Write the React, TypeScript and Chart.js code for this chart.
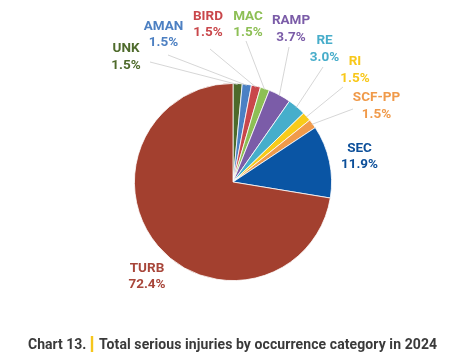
import React, { useEffect, useRef } from "react";
import { Chart, registerables } from "chart.js";

Chart.register(...registerables);

const categories = ["UNK", "AMAN", "BIRD", "MAC", "RAMP", "RE", "RI", "SCF-PP", "SEC", "TURB"];
const shares = [1.5, 1.5, 1.5, 1.5, 3.7, 3.0, 1.5, 1.5, 11.9, 72.4];
const sliceColors = ["#4d6a2b", "#4a80c4", "#c9474b", "#8dbf55", "#7b5ca8", "#46aecb", "#f8cb1a", "#f09a4a", "#0a55a4", "#a3402f"];
const labelColors = ["#4f6b2c", "#4d80c2", "#c9474b", "#8dbf55", "#7b5ca8", "#47adca", "#f8c81a", "#f09a4a", "#0c4f9a", "#a8463a"];
const titleNumber = "Chart 13.";
const titleText = "Total serious injuries by occurrence category in 2024";

// label layout: [text centre x, first line centre y, leader start x, leader start y | null]
const labelLayout: [number, number, number | null, number | null][] = [
  [126, 49, 150, 62],
  [163.5, 26.5, 168, 55],
  [208, 16.5, 210, 49],
  [248, 16.5, 246, 41],
  [291, 21, 289, 47],
  [324.5, 41, 323, 67],
  [355, 62, 343, 87],
  [376.5, 98, 353, 109],
  [359.5, 148.5, null, null],
  [147, 268.5, null, null],
];

const labelPlugin = {
  id: "outLabels",
  afterDraw(chart: any) {
    const ctx = chart.ctx;
    const meta = chart.getDatasetMeta(0);
    ctx.save();
    meta.data.forEach((arc: any, i: number) => {
      const [tx, ty, lx, ly] = labelLayout[i];
      if (lx !== null && ly !== null) {
        const mid = (arc.startAngle + arc.endAngle) / 2;
        const r = arc.outerRadius - 1;
        const ex = arc.x + Math.cos(mid) * r;
        const ey = arc.y + Math.sin(mid) * r;
        ctx.beginPath();
        ctx.moveTo(lx, ly);
        ctx.lineTo(ex, ey);
        ctx.strokeStyle = "#cccccc";
        ctx.lineWidth = 0.8;
        ctx.stroke();
      }
      ctx.fillStyle = labelColors[i];
      ctx.font = "bold 13.5px Roboto, 'Liberation Sans', sans-serif";
      ctx.textAlign = "center";
      ctx.textBaseline = "middle";
      ctx.fillText(categories[i], tx, ty);
      ctx.fillText(shares[i].toFixed(1) + "%", tx, ty + 16.5);
    });
    // caption
    ctx.textAlign = "left";
    ctx.textBaseline = "alphabetic";
    ctx.font = "bold 14px Roboto, 'Liberation Sans', sans-serif";
    ctx.fillStyle = "#3a3a3a";
    ctx.fillText(titleNumber, 28, 349);
    ctx.fillStyle = "#f6c61c";
    ctx.fillRect(90.8, 336, 2.4, 16);
    ctx.fillStyle = "#3a3a3a";
    const w = ctx.measureText(titleText).width;
    const target = 338;
    const extra = (target - w) / (titleText.length - 1);
    (ctx as any).letterSpacing = `${Math.max(0, extra).toFixed(2)}px`;
    ctx.fillText(titleText, 99, 349);
    (ctx as any).letterSpacing = "0px";
    ctx.restore();
  },
};

export default function App() {
  const ref = useRef<HTMLCanvasElement>(null);
  useEffect(() => {
    if (!ref.current) return;
    const chart = new Chart(ref.current, {
      type: "pie",
      data: {
        labels: categories,
        datasets: [
          {
            data: shares,
            backgroundColor: sliceColors,
            borderColor: "#ffffff",
            borderWidth: 0.8,
          },
        ],
      },
      options: {
        responsive: false,
        animation: false,
        devicePixelRatio: 1,
        rotation: 0,
        layout: { padding: { left: 134, right: 134, top: 83, bottom: 82 } },
        plugins: {
          legend: { display: false },
          tooltip: { enabled: false },
          title: { display: false },
        },
      },
      plugins: [labelPlugin],
    });
    return () => chart.destroy();
  }, []);
  return (
    <div style={{ position: "absolute", left: 0, top: 0, width: 466, height: 363, background: "#fff" }}>
      <canvas ref={ref} width={466} height={363} style={{ width: 466, height: 363, display: "block" }} />
    </div>
  );
}
